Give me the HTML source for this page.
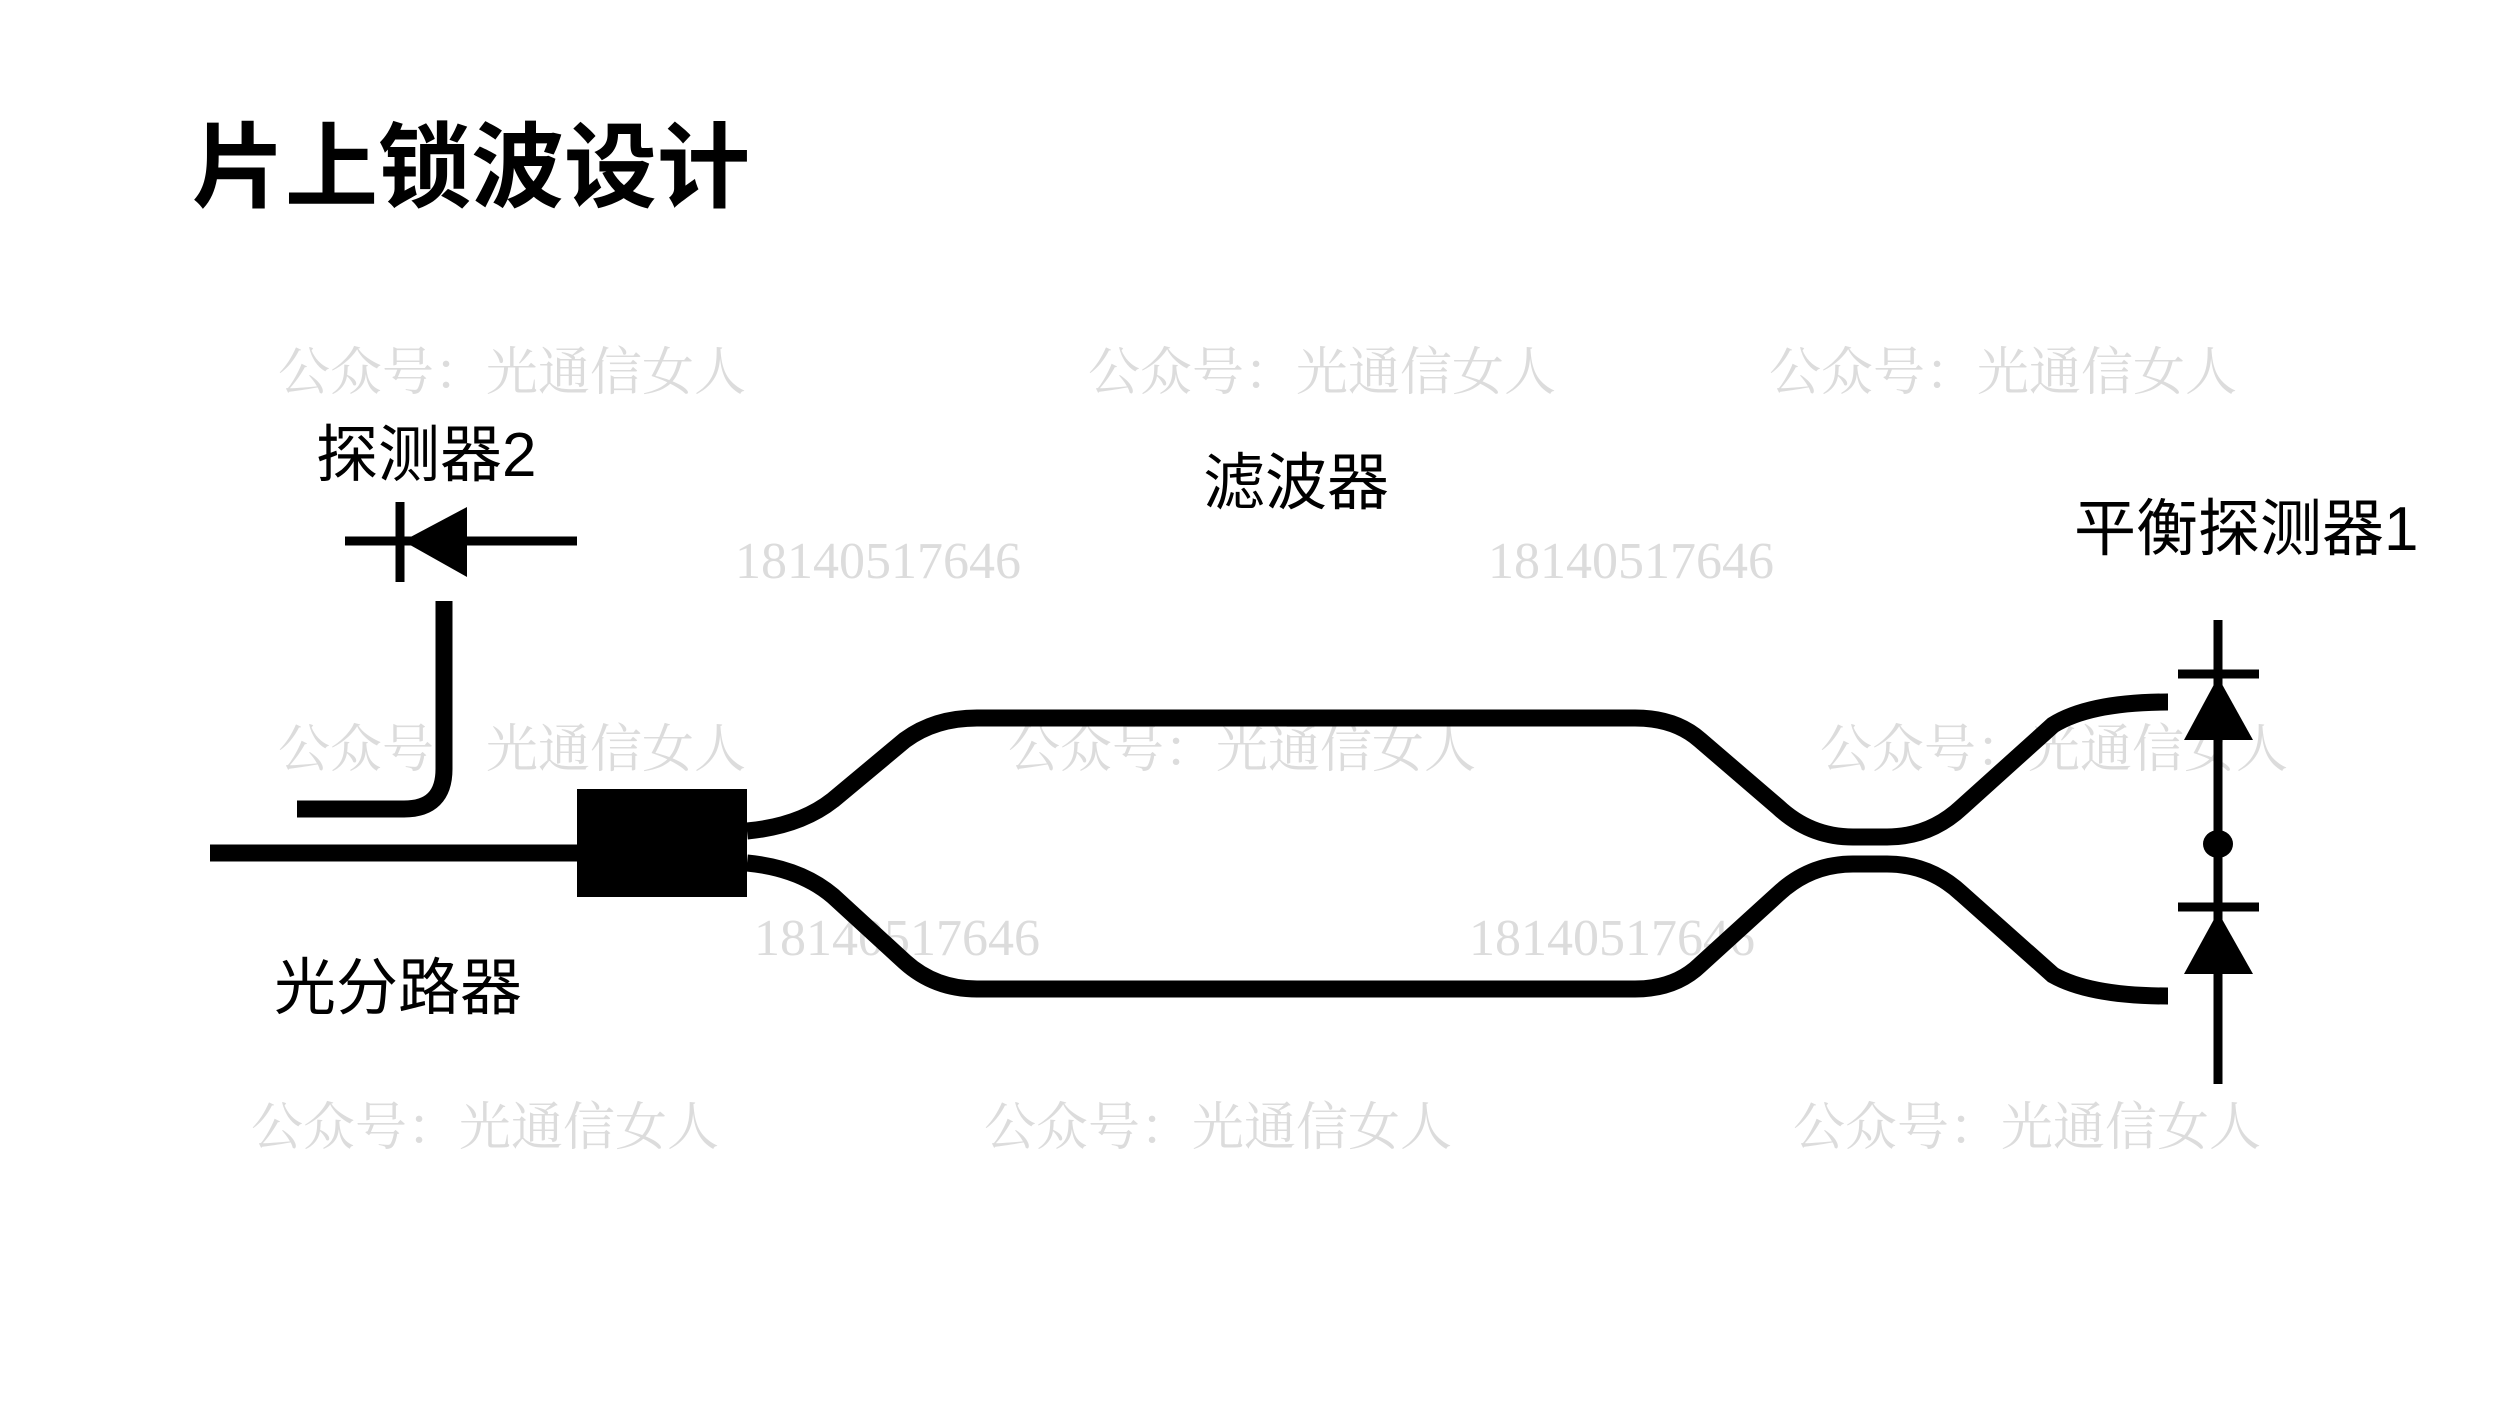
<!DOCTYPE html>
<html><head><meta charset="utf-8"><style>
html,body{margin:0;padding:0;background:#fff;}
svg{display:block;}
</style></head><body>
<svg width="2500" height="1406" viewBox="0 0 2500 1406" xmlns="http://www.w3.org/2000/svg">
<rect width="2500" height="1406" fill="#fff"/>
<g fill="#dcdcdc" font-family="'Liberation Serif','Noto Serif CJK SC',serif" font-size="52">
<text x="278" y="390">公众号：光通信女人</text>
<text x="1088" y="390">公众号：光通信女人</text>
<text x="1769" y="390">公众号：光通信女人</text>
<text x="278" y="767">公众号：光通信女人</text>
<text x="1008" y="767">公众号：光通信女人</text>
<text x="1820" y="767">公众号：光通信女人</text>
<text x="251" y="1145">公众号：光通信女人</text>
<text x="984" y="1145">公众号：光通信女人</text>
<text x="1793" y="1145">公众号：光通信女人</text>
<text x="735" y="578">18140517646</text>
<text x="1488" y="578">18140517646</text>
<text x="754" y="955">18140517646</text>
<text x="1469" y="955">18140517646</text>
</g>
<text x="192" y="200" font-family="'Liberation Sans','Noto Sans CJK SC',sans-serif" font-size="93" font-weight="bold" fill="#000">片上锁波设计</text>
<g font-family="'Liberation Sans','Noto Sans CJK SC',sans-serif" font-size="62" fill="#000">
<text x="316" y="476">探测器2</text>
<text x="1203" y="504">滤波器</text>
<text x="2074" y="550">平衡探测器1</text>
<text x="274" y="1009">光分路器</text>
</g>
<g fill="none" stroke="#000" stroke-width="17">
<line x1="210" y1="853" x2="580" y2="853"/>
<path d="M444 601 V769 Q444 809 404 809 H297"/>
<path d="M747 831 Q800 826 833 800 L905 740 Q935 718 977 718 H1635 Q1675 718 1700 740 L1778 807 Q1810 837 1853 837 H1887 Q1930 837 1962 807 L2053 725 Q2090 702 2168 702"/>
<path d="M747 863 Q800 868 833 896 L905 962 Q935 989 977 989 H1635 Q1675 989 1700 965 L1778 894 Q1810 864 1853 864 H1887 Q1930 864 1962 894 L2053 975 Q2090 996 2168 996"/>
</g>
<rect x="577" y="789" width="170" height="108" fill="#000"/>
<g stroke="#000" stroke-width="9" fill="none">
<line x1="345" y1="541" x2="577" y2="541"/>
<line x1="400" y1="502" x2="400" y2="582"/>
<line x1="2218" y1="620" x2="2218" y2="1084"/>
<line x1="2178" y1="674" x2="2259" y2="674"/>
<line x1="2178" y1="907" x2="2259" y2="907"/>
</g>
<polygon points="403,541 467,507 467,577" fill="#000"/>
<polygon points="2218,677 2184,740 2253,740" fill="#000"/>
<polygon points="2218,912 2184,974 2253,974" fill="#000"/>
<ellipse cx="2218" cy="844" rx="15" ry="14" fill="#000"/>
</svg>
</body></html>
